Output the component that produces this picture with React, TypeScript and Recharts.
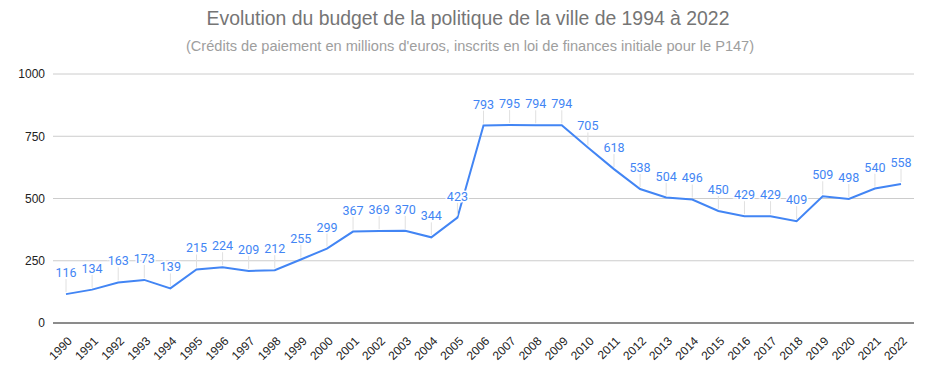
import React from 'react'
import { LineChart, Line, XAxis, YAxis, CartesianGrid, LabelList } from 'recharts'

const years = [
  '1990', '1991', '1992', '1993', '1994', '1995', '1996', '1997', '1998', '1999',
  '2000', '2001', '2002', '2003', '2004', '2005', '2006', '2007', '2008', '2009',
  '2010', '2011', '2012', '2013', '2014', '2015', '2016', '2017', '2018', '2019',
  '2020', '2021', '2022',
]
const budget = [
  116, 134, 163, 173, 139, 215, 224, 209, 212, 255,
  299, 367, 369, 370, 344, 423, 793, 795, 794, 794,
  705, 618, 538, 504, 496, 450, 429, 429, 409, 509,
  498, 540, 558,
]
const yTicks = [0, 250, 500, 750, 1000]

const data = years.map((y, i) => ({ annee: y, budget: budget[i] }))

const ARIAL = 'Arial, "Liberation Sans", sans-serif'
const ROBOTO = 'Roboto, Arial, sans-serif'
const BLUE = '#4285f4'

function PointLabel(props: any) {
  const { x, y, value } = props
  return (
    <g>
      <line x1={x} y1={y - 2} x2={x} y2={y - 15} stroke="#e0e0e0" strokeWidth={1} />
      <text
        x={x}
        y={y - 17}
        textAnchor="middle"
        fontSize={12.5}
        fill={BLUE}
        fontFamily={ROBOTO}
        stroke="#fff"
        strokeWidth={3}
        paintOrder="stroke"
      >
        {value}
      </text>
    </g>
  )
}

function YearTick(props: any) {
  const { x, y, payload } = props
  return (
    <text
      x={x + 4}
      y={y + 8}
      transform={`rotate(-45, ${x + 4}, ${y + 8})`}
      textAnchor="end"
      dominantBaseline="central"
      fontSize={12}
      fill="#222"
      fontFamily={ARIAL}
    >
      {payload.value}
    </text>
  )
}

export default function App() {
  return (
    <div style={{ position: 'absolute', left: 0, top: 0, width: 927, height: 372, background: '#fff', fontFamily: ARIAL }}>
      <div style={{ position: 'absolute', top: 7, left: 0, width: 936, textAlign: 'center', fontSize: 19.4, color: '#757575' }}>
        Evolution du budget de la politique de la ville de 1994 à 2022
      </div>
      <div style={{ position: 'absolute', top: 38, left: 0, width: 940, textAlign: 'center', fontSize: 14.6, color: '#9e9e9e' }}>
        (Crédits de paiement en millions d'euros, inscrits en loi de finances initiale pour le P147)
      </div>
      <LineChart width={927} height={372} data={data} margin={{ top: 74, right: 13, left: 0, bottom: 0 }}>
        <CartesianGrid vertical={false} stroke="#cccccc" />
        <XAxis
          dataKey="annee"
          interval={0}
          height={49}
          padding={{ left: 13, right: 13 }}
          tick={<YearTick />}
          tickLine={false}
          axisLine={{ stroke: '#333333' }}
        />
        <YAxis
          width={53}
          domain={[0, 1000]}
          ticks={yTicks}
          tick={{ fontSize: 12, fill: '#222', fontFamily: ARIAL }}
          tickLine={false}
          axisLine={false}
        />
        <Line
          type="linear"
          dataKey="budget"
          stroke={BLUE}
          strokeWidth={2}
          dot={false}
          isAnimationActive={false}
        >
          <LabelList dataKey="budget" content={<PointLabel />} />
        </Line>
      </LineChart>
    </div>
  )
}
